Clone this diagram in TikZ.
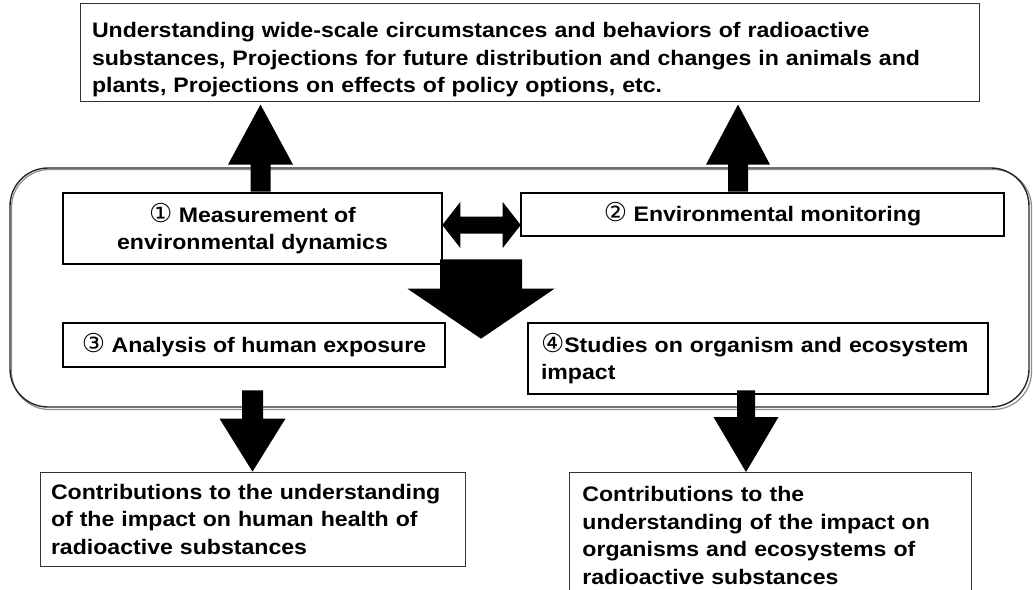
\documentclass[tikz,border=0pt]{standalone}
\usepackage{fontspec}
\setmainfont{Liberation Sans}[FakeStretch=1.1]
\newfontfamily\symfont{DejaVu Sans}
\usetikzlibrary{calc}
\newcommand{\cnum}[1]{{\mdseries\symfont\fontsize{26}{27.5}\selectfont #1}}
% block arrow: start, tip, shaft half width, head half width, head length
\newcommand{\blockarrow}[5]{%
  \fill[arrowfill]
    ($(#1)!#3!90:(#2)$) --
    ($($(#2)!#5!(#1)$)!#3!90:(#2)$) --
    ($($(#2)!#5!(#1)$)!#4!90:(#2)$) --
    (#2) --
    ($($(#2)!#5!(#1)$)!#4!-90:(#2)$) --
    ($($(#2)!#5!(#1)$)!#3!-90:(#2)$) --
    ($(#1)!#3!-90:(#2)$) -- cycle;}
\tikzset{
  txt/.style={font=\fontsize{21}{27.5}\selectfont\bfseries},
  thinbox/.style={txt, draw=black!80, line width=0.8pt, fill=white, inner xsep=12pt, inner ysep=4pt, align=left},
  thickbox/.style={txt, draw=black, line width=2.6pt, fill=white, inner xsep=12pt, inner ysep=3pt},
  arrowfill/.style={fill=black},
  frame/.style={draw=black!85, line width=1.4pt, rounded corners=38pt},
  frameshade/.style={draw=black!45, line width=1.2pt, rounded corners=38pt},
}
\begin{document}
\begin{tikzpicture}[x=1pt,y=-1pt]
\useasboundingbox (0,0) rectangle (1033,589);
\clip (0,0) rectangle (1033,589);

% container
\draw[frameshade] (11.5,169.5) rectangle (1031.5,409.5);
\draw[frame] (10,168) rectangle (1029,407);

% top box
\node[thinbox, minimum width=899pt, minimum height=95pt, text width=875pt] (top) at (529.5,52.5)
  {\rule{0pt}{30pt}Understanding wide-scale circumstances and behaviors of radioactive\\substances, Projections for future distribution and changes in animals and\\plants, Projections on effects of policy options, etc.};

% inner boxes
\node[thickbox, minimum width=379pt, minimum height=71pt, align=center] (b1) at (252.5,228.5)
  {\cnum{①} Measurement of\\environmental dynamics};
\node[thickbox, minimum width=483pt, minimum height=43pt, align=center] (b2) at (762.5,214.5)
  {\cnum{②} Environmental monitoring};
\node[thickbox, minimum width=382pt, minimum height=44pt, align=center] (b3) at (254,345)
  {\cnum{③} Analysis of human exposure};
\node[thickbox, minimum width=460pt, minimum height=71pt, text width=434pt, align=left, inner xsep=13pt] (b4) at (758,358.5)
  {\cnum{④}Studies on organism and ecosystem\\impact};

% bottom boxes
\node[thinbox, minimum width=425pt, minimum height=94pt, text width=403pt, inner xsep=11pt] (bl) at (252.5,519)
  {Contributions to the understanding\\of the impact on human health of\\radioactive substances};
\node[thinbox, anchor=north west, minimum width=402pt, minimum height=126pt, text width=376pt, inner xsep=13pt] (br) at (569,472)
  {Contributions to the\\understanding of the impact on\\organisms and ecosystems of\\radioactive substances};

% arrow anchor coordinates
\coordinate (xl) at (260.5,0);
\coordinate (xr) at (738,0);
\coordinate (xm) at (481,0);
\coordinate (xdl) at (252.5,0);
\coordinate (xdr) at (746,0);

\coordinate (u1s) at (xl |- b1.north);
\coordinate (u1t) at ($(xl |- top.south)+(0,3)$);
\coordinate (u2s) at (xr |- b2.north);
\coordinate (u2t) at ($(xr |- top.south)+(0,3)$);
\coordinate (dms) at ($(xm |- b2.south)+(0,22)$);
\coordinate (dmt) at ($(xm |- b3.north)+(0,17)$);
\coordinate (dls) at ($(xdl |- b3.south)+(0,22)$);
\coordinate (dlt) at (xdl |- bl.north);
\coordinate (drs) at ($(xdr |- b4.south)+(0,-5)$);
\coordinate (drt) at (xdr |- br.north);

\blockarrow{u1s}{u1t}{10pt}{32.5pt}{60pt}
\blockarrow{u2s}{u2t}{10pt}{32pt}{60pt}
\blockarrow{dms}{dmt}{41pt}{73.5pt}{50pt}
\blockarrow{dls}{dlt}{10.5pt}{33pt}{53pt}
\blockarrow{drs}{drt}{9pt}{32.5pt}{55pt}

% double arrow between box 1 and box 2
\coordinate (hl) at ($(b1.east |- 0,225)+(-1,0)$);
\coordinate (hr) at ($(b2.west |- 0,225)+(1,0)$);
\fill[arrowfill]
  (hl) --
  ($($(hl)!18pt!(hr)$)!23pt!90:(hr)$) --
  ($($(hl)!18pt!(hr)$)!8.5pt!90:(hr)$) --
  ($($(hr)!18pt!(hl)$)!8.5pt!-90:(hl)$) --
  ($($(hr)!18pt!(hl)$)!23pt!-90:(hl)$) --
  (hr) --
  ($($(hr)!18pt!(hl)$)!23pt!90:(hl)$) --
  ($($(hr)!18pt!(hl)$)!8.5pt!90:(hl)$) --
  ($($(hl)!18pt!(hr)$)!8.5pt!-90:(hr)$) --
  ($($(hl)!18pt!(hr)$)!23pt!-90:(hr)$) -- cycle;
\end{tikzpicture}
\end{document}
